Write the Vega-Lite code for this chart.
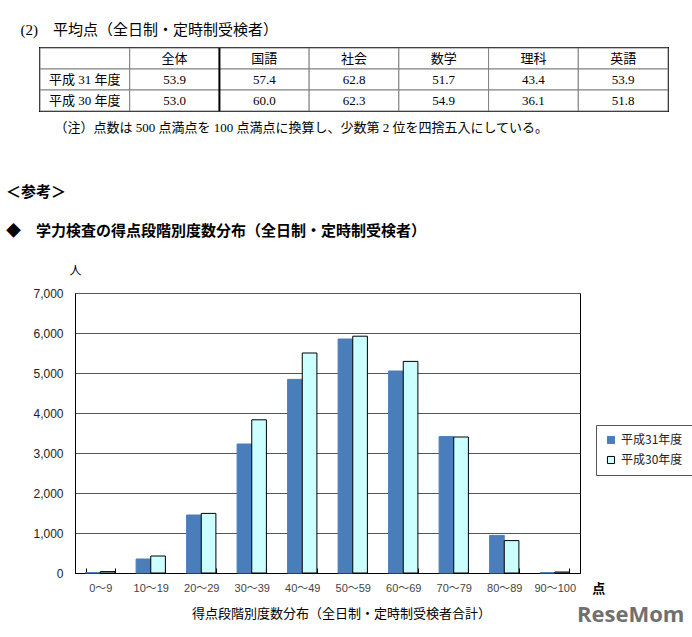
{
  "$schema": "https://vega.github.io/schema/vega-lite/v6.json",
  "background": "white",
  "padding": {"left": 5, "top": 22, "right": 5, "bottom": 5},
  "config": {"view": {"stroke": null}, "font": "Noto Sans CJK JP"},
  "spacing": 49,
  "vconcat": [
    {
      "width": 628,
      "height": 63,
      "title": {"text": "(2)\u3000平均点（全日制・定時制受検者）", "anchor": "start", "dx": -19, "fontSize": 15, "fontWeight": "normal", "font": "Liberation Serif, Noto Sans CJK JP", "offset": 9, "color": "#000"},
      "view": {"stroke": "#000", "strokeWidth": 2},
      "data": {"values": [
        {"row": "", "col": "区分", "text": ""},
        {"row": "", "col": "全体", "text": "全体"},
        {"row": "", "col": "国語", "text": "国語"},
        {"row": "", "col": "社会", "text": "社会"},
        {"row": "", "col": "数学", "text": "数学"},
        {"row": "", "col": "理科", "text": "理科"},
        {"row": "", "col": "英語", "text": "英語"},
        {"row": "平成31年度", "col": "区分", "text": "平成 31 年度"},
        {"row": "平成31年度", "col": "全体", "text": "53.9"},
        {"row": "平成31年度", "col": "国語", "text": "57.4"},
        {"row": "平成31年度", "col": "社会", "text": "62.8"},
        {"row": "平成31年度", "col": "数学", "text": "51.7"},
        {"row": "平成31年度", "col": "理科", "text": "43.4"},
        {"row": "平成31年度", "col": "英語", "text": "53.9"},
        {"row": "平成30年度", "col": "区分", "text": "平成 30 年度"},
        {"row": "平成30年度", "col": "全体", "text": "53.0"},
        {"row": "平成30年度", "col": "国語", "text": "60.0"},
        {"row": "平成30年度", "col": "社会", "text": "62.3"},
        {"row": "平成30年度", "col": "数学", "text": "54.9"},
        {"row": "平成30年度", "col": "理科", "text": "36.1"},
        {"row": "平成30年度", "col": "英語", "text": "51.8"}
      ]},
      "layer": [
        {
          "mark": {"type": "rect", "fill": "white", "stroke": "#808080", "strokeWidth": 1},
          "encoding": {
            "x": {"field": "col", "type": "nominal", "sort": ["区分", "全体", "国語", "社会", "数学", "理科", "英語"], "scale": {"paddingInner": 0, "paddingOuter": 0},
              "axis": {"title": "（注）点数は 500 点満点を 100 点満点に換算し、少数第 2 位を四捨五入にしている。", "labels": false, "ticks": false, "domain": false, "titleAlign": "left", "titleX": 14, "titleY": 16, "titleBaseline": "middle", "titleFontSize": 13, "titleFontWeight": "normal", "titleFont": "Liberation Serif, Noto Sans CJK JP", "titleColor": "#000"}},
            "y": {"field": "row", "type": "nominal", "sort": ["", "平成31年度", "平成30年度"], "scale": {"paddingInner": 0, "paddingOuter": 0}, "axis": null}
          }
        },
        {
          "mark": {"type": "text", "fontSize": 13, "font": "Liberation Serif, Noto Sans CJK JP", "color": "#000"},
          "encoding": {
            "x": {"field": "col", "type": "nominal", "sort": ["区分", "全体", "国語", "社会", "数学", "理科", "英語"]},
            "y": {"field": "row", "type": "nominal", "sort": ["", "平成31年度", "平成30年度"]},
            "text": {"field": "text"}
          }
        },
        {
          "data": {"values": [{"col": "国語"}]},
          "mark": {"type": "rule", "stroke": "#000", "strokeWidth": 2},
          "encoding": {
            "x": {"field": "col", "type": "nominal", "bandPosition": 0, "sort": ["区分", "全体", "国語", "社会", "数学", "理科", "英語"]}
          }
        }
      ]
    },
    {
      "bounds": "flush",
      "spacing": 0,
      "hconcat": [
        {
          "width": 35,
          "height": 1,
          "data": {"values": []},
          "mark": "point"
        },
        {
          "width": 505,
          "height": 280,
          "title": {"text": "＜参考＞", "subtitle": "\u3000\u3000◆\u3000学力検査の得点段階別度数分布（全日制・定時制受検者）", "anchor": "start", "dx": -27, "fontSize": 15, "fontWeight": "bold", "font": "Noto Sans CJK JP", "subtitleFont": "Noto Sans CJK JP", "subtitleFontSize": 15, "subtitleFontWeight": "bold", "subtitleColor": "#000", "color": "#000", "subtitlePadding": 24, "offset": 25},
          "view": {"stroke": "#000", "strokeWidth": 1},
          "data": {"values": [
            {"c": "0～9", "year": "平成31年度", "n": 10},
            {"c": "0～9", "year": "平成30年度", "n": 35},
            {"c": "10～19", "year": "平成31年度", "n": 350},
            {"c": "10～19", "year": "平成30年度", "n": 425},
            {"c": "20～29", "year": "平成31年度", "n": 1450},
            {"c": "20～29", "year": "平成30年度", "n": 1490},
            {"c": "30～39", "year": "平成31年度", "n": 3225},
            {"c": "30～39", "year": "平成30年度", "n": 3830},
            {"c": "40～49", "year": "平成31年度", "n": 4840},
            {"c": "40～49", "year": "平成30年度", "n": 5500},
            {"c": "50～59", "year": "平成31年度", "n": 5850},
            {"c": "50～59", "year": "平成30年度", "n": 5920},
            {"c": "60～69", "year": "平成31年度", "n": 5050},
            {"c": "60～69", "year": "平成30年度", "n": 5290},
            {"c": "70～79", "year": "平成31年度", "n": 3410},
            {"c": "70～79", "year": "平成30年度", "n": 3400},
            {"c": "80～89", "year": "平成31年度", "n": 940},
            {"c": "80～89", "year": "平成30年度", "n": 810},
            {"c": "90～100", "year": "平成31年度", "n": 10},
            {"c": "90～100", "year": "平成30年度", "n": 25}
          ]},
          "encoding": {
            "x": {"field": "c", "type": "nominal", "sort": ["0～9", "10～19", "20～29", "30～39", "40～49", "50～59", "60～69", "70～79", "80～89", "90～100"],
              "scale": {"paddingInner": 0.42, "paddingOuter": 0.21},
              "axis": {"labelAngle": 0, "labelFont": "Liberation Sans, Noto Sans CJK JP", "labelFontSize": 11, "labelColor": "#444", "labelPadding": 14, "tickBand": "extent", "tickSize": -5, "tickColor": "#000", "domainColor": "#000",
                "title": "得点段階別度数分布（全日制・定時制受検者合計）", "titleFont": "Noto Sans CJK JP", "titleFontSize": 13, "titleFontWeight": "normal", "titleColor": "#000", "titleX": 266, "titleY": 40, "titleAlign": "center", "titleBaseline": "middle"}},
            "y": {"field": "n", "type": "quantitative", "scale": {"domain": [0, 7000]},
              "axis": {"values": [0, 1000, 2000, 3000, 4000, 5000, 6000, 7000], "tickCount": 10, "format": ",.0f", "labelFont": "Liberation Sans", "labelFontSize": 12, "labelColor": "#222", "labelPadding": 12, "ticks": false, "domainColor": "#000", "gridColor": "#555", "gridWidth": 1,
                "title": "人", "titleAngle": 0, "titleX": 0, "titleY": -23, "titleAlign": "center", "titleBaseline": "middle", "titleFont": "Noto Sans CJK JP", "titleFontSize": 12, "titleFontWeight": "normal", "titleColor": "#000"}}
          },
          "layer": [
            {
              "mark": {"type": "bar", "strokeWidth": 1},
              "encoding": {
                "xOffset": {"field": "year", "type": "nominal", "sort": ["平成31年度", "平成30年度"]},
                "color": {"field": "year", "type": "nominal", "sort": ["平成31年度", "平成30年度"], "scale": {"range": ["#4a7ebb", "#ccffff"]},
                  "legend": {"title": null, "orient": "none", "legendX": 556, "legendY": 377, "strokeColor": "#555", "fillColor": "white", "padding": 9, "symbolType": "square", "symbolSize": 50, "symbolStrokeWidth": 1, "labelFont": "Noto Sans CJK JP", "labelFontSize": 12, "labelColor": "#222", "rowPadding": 8,
                    "encode": {"symbols": {"update": {"stroke": {"scale": "stroke", "field": "value"}, "strokeWidth": {"value": 1}}}}}},
                "stroke": {"field": "year", "type": "nominal", "sort": ["平成31年度", "平成30年度"], "scale": {"range": ["#4a7ebb", "#000000"]}, "legend": null}
              }
            },
            {
              "data": {"values": [{"c": "90～100", "t": "点", "n": 0}]},
              "mark": {"type": "text", "dx": 44, "dy": 16, "fontWeight": "bold", "fontSize": 13, "font": "Noto Sans CJK JP", "color": "#000"},
              "encoding": {"text": {"field": "t"}}
            },
            {
              "data": {"values": [{"c": "90～100", "t": "ReseMom", "n": 0}]},
              "mark": {"type": "text", "dx": 76, "dy": 42, "fontWeight": "bold", "fontSize": 22, "font": "Open Sans", "color": "#707070"},
              "encoding": {"text": {"field": "t"}}
            }
          ]
        }
      ]
    }
  ]
}
